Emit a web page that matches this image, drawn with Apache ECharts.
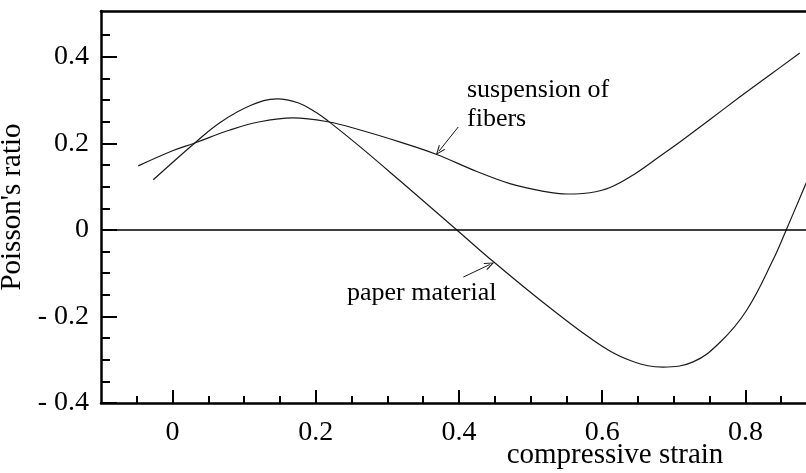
<!DOCTYPE html>
<html><head><meta charset="utf-8">
<script src="https://cdn.jsdelivr.net/npm/echarts@6/dist/echarts.min.js"></script>
<style>html,body{margin:0;padding:0;background:#fff}#c{width:806px;height:473px}</style>
</head><body><div id="c"></div>
<script>
// Suspension of fibers
const fibersStrain = [-0.048, 0.0, 0.031, 0.080, 0.122, 0.168, 0.217, 0.262, 0.318, 0.368, 0.425, 0.471, 0.513, 0.551, 0.583, 0.611, 0.646, 0.681, 0.709, 0.751, 0.792, 0.834, 0.876];
const fibersRatio  = [0.148, 0.183, 0.201, 0.231, 0.250, 0.259, 0.250, 0.231, 0.203, 0.175, 0.135, 0.107, 0.091, 0.083, 0.086, 0.098, 0.130, 0.171, 0.204, 0.256, 0.307, 0.358, 0.409];
// Paper material
const paperStrain = [-0.027, 0.031, 0.066, 0.108, 0.146, 0.175, 0.200, 0.217, 0.262, 0.318, 0.397, 0.447, 0.527, 0.601, 0.643, 0.685, 0.727, 0.765, 0.802, 0.839, 0.857, 0.885];
const paperRatio  = [0.116, 0.201, 0.248, 0.287, 0.303, 0.294, 0.272, 0.252, 0.192, 0.113, 0.0, -0.072, -0.180, -0.270, -0.304, -0.317, -0.305, -0.259, -0.185, -0.068, 0.0, 0.109];
// Ticks
const xMajorTicks = [0, 0.2, 0.4, 0.6, 0.8];
const xMinorTicks = [-0.05, 0.05, 0.1, 0.15, 0.25, 0.3, 0.35, 0.45, 0.5, 0.55, 0.65, 0.7, 0.75, 0.85];
const yMajorTicks = [-0.4, -0.2, 0, 0.2, 0.4];
const yMinorTicks = [-0.35, -0.3, -0.25, -0.15, -0.1, -0.05, 0.05, 0.1, 0.15, 0.25, 0.3, 0.35, 0.45];

const SERIF = "'Liberation Serif','Times New Roman',serif";
const fmt = v => (v < 0 ? '- ' + String(Math.abs(v)) : String(v));
const pairs = (xs, ys) => xs.map((x, i) => [x, ys[i]]);
const CHEVRON = 'path://M0,10 L5,0 L10,10 L8.6,10 L5,2.8 L1.4,10 Z';
const axisLineStyle = {color: '#000', width: 2.5};
const tickStyle = {color: '#000', width: 2};

const chart = echarts.init(document.getElementById('c'), null, {renderer: 'canvas'});
chart.setOption({
  animation: false,
  backgroundColor: '#fff',
  grid: [
    {left: 101, right: -11, top: 11, bottom: 70, containLabel: false, outerBoundsMode: 'none'},
    {left: 101, right: -11, top: 11, bottom: 70, containLabel: false, outerBoundsMode: 'none'}
  ],
  xAxis: [
    {type: 'value', gridIndex: 0, position: 'bottom', min: -0.1, max: 0.9,
     axisLine: {show: true, onZero: false, lineStyle: axisLineStyle},
     axisTick: {show: true, inside: true, length: 13, lineStyle: tickStyle, customValues: xMajorTicks},
     axisLabel: {show: true, customValues: xMajorTicks, formatter: fmt, color: '#000', fontFamily: SERIF, fontSize: 28, margin: 16},
     splitLine: {show: false}},
    {type: 'value', gridIndex: 0, position: 'top', min: -0.1, max: 0.9,
     axisLine: {show: true, onZero: false, lineStyle: axisLineStyle},
     axisTick: {show: false}, axisLabel: {show: false}, splitLine: {show: false}},
    {type: 'value', gridIndex: 1, position: 'bottom', min: -0.1, max: 0.9,
     axisLine: {show: false, onZero: false},
     axisTick: {show: true, inside: true, length: 7, lineStyle: tickStyle, customValues: xMinorTicks},
     axisLabel: {show: false}, splitLine: {show: false}}
  ],
  yAxis: [
    {type: 'value', gridIndex: 0, position: 'left', min: -0.4, max: 0.506,
     name: "Poisson's ratio", nameLocation: 'middle', nameGap: 64,
     nameTextStyle: {color: '#000', fontFamily: SERIF, fontSize: 29},
     axisLine: {show: true, onZero: false, lineStyle: axisLineStyle},
     axisTick: {show: true, inside: true, length: 16, lineStyle: tickStyle, customValues: yMajorTicks},
     axisLabel: {show: true, customValues: yMajorTicks, formatter: fmt, color: '#000', fontFamily: SERIF, fontSize: 28, margin: 12},
     splitLine: {show: false}},
    {type: 'value', gridIndex: 1, position: 'left', min: -0.4, max: 0.506,
     axisLine: {show: false, onZero: false},
     axisTick: {show: true, inside: true, length: 9, lineStyle: tickStyle, customValues: yMinorTicks},
     axisLabel: {show: false}, splitLine: {show: false}}
  ],
  series: [
    {name: 'suspension of fibers', type: 'line', xAxisIndex: 0, yAxisIndex: 0,
     data: pairs(fibersStrain, fibersRatio), smooth: 0.4, showSymbol: false, symbol: 'none',
     lineStyle: {color: '#1a1a1a', width: 1.2}, silent: true,
     markLine: {silent: true, symbol: ['none', CHEVRON], symbolSize: [8, 10],
       label: {show: false}, lineStyle: {color: '#1a1a1a', width: 1, type: 'solid'},
       data: [
         [{coord: [0.399, 0.238]}, {coord: [0.372, 0.182]}],
         [{coord: [0.406, -0.109]}, {coord: [0.443, -0.080]}]
       ]}},
    {name: 'paper material', type: 'line', xAxisIndex: 0, yAxisIndex: 0,
     data: pairs(paperStrain, paperRatio), smooth: 0.4, showSymbol: false, symbol: 'none',
     lineStyle: {color: '#1a1a1a', width: 1.2}, silent: true,
     markLine: {silent: true, symbol: 'none', label: {show: false},
       lineStyle: {color: '#000', width: 1.5, type: 'solid'},
       data: [{yAxis: 0}]}}
  ],
  graphic: [
    {type: 'text', x: 467, y: 105, silent: true,
     style: {text: 'suspension of\nfibers', fill: '#000', font: '26px ' + SERIF, align: 'left', verticalAlign: 'middle', lineHeight: 29}},
    {type: 'text', x: 347, y: 293, silent: true,
     style: {text: 'paper material', fill: '#000', font: '26px ' + SERIF, align: 'left', verticalAlign: 'middle'}},
    {type: 'text', x: 615, y: 455, silent: true,
     style: {text: 'compressive strain', fill: '#000', font: '29px ' + SERIF, align: 'center', verticalAlign: 'middle'}}
  ]
});
</script></body></html>
